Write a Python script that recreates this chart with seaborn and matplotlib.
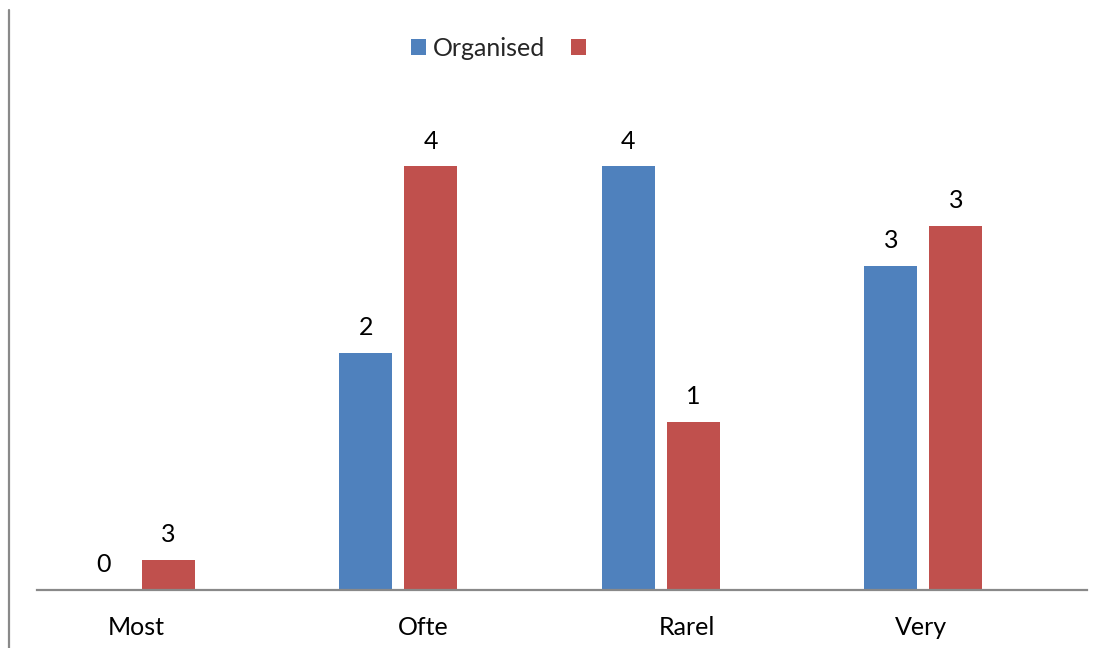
import matplotlib
matplotlib.use("Agg")
import matplotlib.pyplot as plt
import matplotlib.transforms as mtransforms
from matplotlib.lines import Line2D
from matplotlib.patches import Patch
import pandas as pd
import seaborn as sns

# Chart data
categories = ["Most", "Ofte", "Rarel", "Very"]
series_names = ["Organised", ""]
organised_values = [0.0, 2.365, 4.23, 3.235]
second_values = [0.295, 4.23, 1.675, 3.635]
organised_labels = ["0", "2", "4", "3"]
second_labels = ["3", "4", "1", "3"]

colors = ["#4F81BD", "#C0504D"]
axis_gray = "#898989"

sns.set_theme(style="white")
plt.rcParams["font.family"] = ["Lato", "DejaVu Sans"]

df = pd.DataFrame({
    "category": categories * 2,
    "series": [series_names[0]] * len(categories) + ["_second"] * len(categories),
    "value": organised_values + second_values,
})

fig = plt.figure(figsize=(11.1, 6.48), dpi=100)
ax = fig.add_axes([37 / 1110, 1 - 589.5 / 648, 1050 / 1110, (589.5 - 10) / 648])

sns.barplot(
    data=df, x="category", y="value", hue="series",
    order=categories, hue_order=[series_names[0], "_second"],
    palette=colors, width=0.4952, gap=0.1846, saturation=1,
    legend=False, ax=ax, errorbar=None, linewidth=0, edgecolor="none",
)

ax.set_xlim(-0.377, 3.623)
ax.set_ylim(0, 5.795)
ax.set_xlabel("")
ax.set_ylabel("")
ax.set_yticks([])
ax.tick_params(axis="x", length=0, pad=19, labelsize=18, labelcolor="black")
for side in ["top", "right", "left"]:
    ax.spines[side].set_visible(False)
ax.spines["bottom"].set_color(axis_gray)
ax.spines["bottom"].set_linewidth(1.6)

# Category labels sit slightly right of the group centre for the middle groups
label_shift_px = [0, 25, 26, -2]
for lbl, dx in zip(ax.get_xticklabels(), label_shift_px):
    lbl.set_transform(lbl.get_transform()
                      + mtransforms.ScaledTranslation(dx / 100, 0, fig.dpi_scale_trans))

# Value labels above each bar
label_sets = [organised_labels, second_labels]
for container, texts in zip(ax.containers, label_sets):
    ax.bar_label(container, labels=texts, padding=10, fontsize=18, color="black")

# Vertical rule along the left edge
fig.add_artist(Line2D([9 / 1110, 9 / 1110], [0, 1 - 10 / 648],
                      transform=fig.transFigure, color=axis_gray, linewidth=1.6))

handles = [Patch(facecolor=c, edgecolor="none") for c in colors]
fig.legend(handles, series_names, loc="center", bbox_to_anchor=(502 / 1110, 1 - 48 / 648),
           ncol=2, frameon=False, fontsize=18, handlelength=0.6, handleheight=0.6,
           handletextpad=0.3, columnspacing=1.0)

fig.savefig("out.png", dpi=100)
